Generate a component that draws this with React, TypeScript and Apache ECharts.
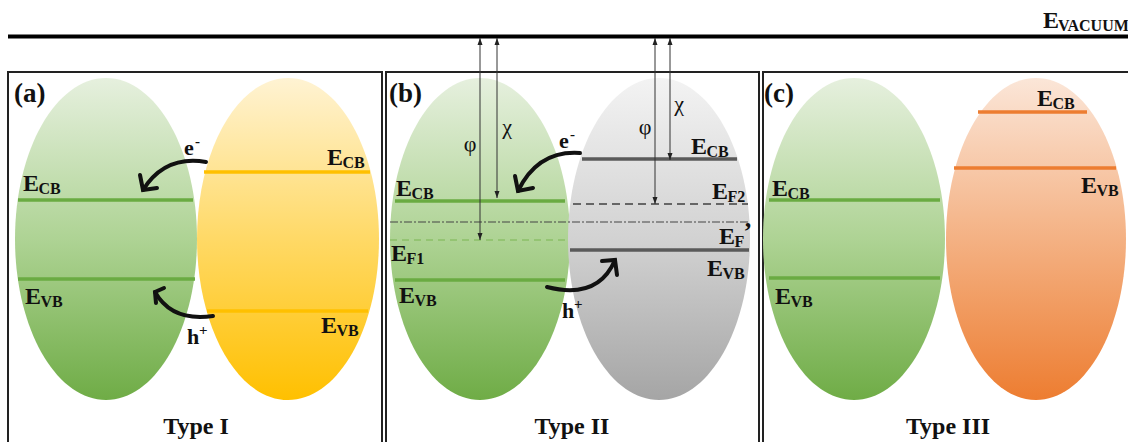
import React, { useEffect, useRef } from "react";
import * as echarts from "echarts";

// ---- content (texts) ----
const panelLabels = ["(a)", "(b)", "(c)"];
const typeLabels = ["Type I", "Type II", "Type III"];
const carrierLabels = [
  ["e", "-"],
  ["h", "+"],
];
const greekLabels = ["φ", "χ"];
const vacuumLabel = ["E", "VACUUM"];

const FONT = "'Liberation Serif', 'Times New Roman', Times, serif";

type El = any;

function txt(x: number, y: number, text: string, size: number, opts: any = {}): El {
  return {
    type: "text",
    x,
    y,
    z: 20,
    style: {
      text,
      fontSize: size,
      fontFamily: opts.family ?? FONT,
      fontWeight: opts.weight ?? "bold",
      fill: opts.fill ?? "#111",
      align: opts.align ?? "left",
      verticalAlign: "middle",
    },
  };
}

const MS = 24;
const SS = 16;

// E with subscript (optionally with superscript after sub)
function eLabel(x: number, base: number, sub: string, sup?: string, subW = 0): El[] {
  const out: El[] = [
    txt(x, base - 0.33 * MS, "E", MS),
    txt(x + 15.5, base + 3 - 0.33 * SS, sub, SS),
  ];
  if (sup) out.push(txt(x + 15.5 + subW, base - 13, sup, 26));
  return out;
}

function carrier(x: number, base: number, letter: string, sign: string, w: number): El[] {
  return [txt(x, base - 0.33 * 22, letter, 22), txt(x + w, base - 14, sign, 15)];
}

function hline(x1: number, x2: number, y: number, color: string, width: number, dash?: number[]): El {
  return {
    type: "line",
    z: 10,
    shape: { x1, y1: y, x2, y2: y },
    style: { stroke: color, lineWidth: width, lineDash: dash },
  };
}

function ellipse(cx: number, cy: number, rx: number, ry: number, stops: string[]): El {
  return {
    type: "ellipse",
    z: 5,
    shape: { cx, cy, rx, ry },
    style: {
      fill: new echarts.graphic.LinearGradient(0, 0, 0, 1, [
        { offset: 0, color: stops[0] },
        { offset: 0.5, color: stops[1] },
        { offset: 1, color: stops[2] },
      ]),
    },
  };
}

function curvedArrow(
  sx: number, sy: number, cx: number, cy: number, tx: number, ty: number,
  a1: [number, number], a2: [number, number]
): El[] {
  return [
    {
      type: "bezierCurve",
      z: 15,
      shape: { x1: sx, y1: sy, x2: tx, y2: ty, cpx1: cx, cpy1: cy },
      style: { stroke: "#111", lineWidth: 4, fill: null, lineCap: "round" },
    },
    {
      type: "polyline",
      z: 15,
      shape: { points: [a1, [tx, ty], a2] },
      style: { stroke: "#111", lineWidth: 4, fill: null, lineCap: "round", lineJoin: "miter" },
    },
  ];
}

function vArrow(x: number, y1: number, y2: number): El[] {
  return [
    {
      type: "line",
      z: 16,
      shape: { x1: x, y1: y1, x2: x, y2: y2 },
      style: { stroke: "#333", lineWidth: 1 },
    },
    {
      type: "polygon",
      z: 16,
      shape: { points: [[x, y1], [x - 2.5, y1 + 7], [x + 2.5, y1 + 7]] },
      style: { fill: "#222" },
    },
    {
      type: "polygon",
      z: 16,
      shape: { points: [[x, y2], [x - 2.5, y2 - 7], [x + 2.5, y2 - 7]] },
      style: { fill: "#222" },
    },
  ];
}

function box(x1: number, x2: number): El {
  return {
    type: "rect",
    z: 1,
    shape: { x: x1, y: 72, width: x2 - x1, height: 400 },
    style: { fill: "none", stroke: "#222", lineWidth: 2 },
  };
}

const GREEN = ["#e6f0de", "#aed394", "#6fac46"];
const YELLOW = ["#fff3d3", "#ffd966", "#ffc000"];
const GRAY = ["#f3f3f3", "#d2d2d2", "#a5a5a5"];
const ORANGE = ["#fbe6d8", "#f4b183", "#ed7d31"];

function buildElements(): El[] {
  const els: El[] = [];
  // vacuum level
  els.push({
    type: "line",
    z: 12,
    shape: { x1: 8, y1: 36.5, x2: 1130, y2: 36.5 },
    style: { stroke: "#000", lineWidth: 4 },
  });
  els.push(txt(1043, 28 - 0.33 * MS, vacuumLabel[0], MS));
  els.push(txt(1058, 31 - 0.33 * SS, vacuumLabel[1], SS));

  // panel boxes
  els.push(box(8, 382), box(386, 759), box(763, 1140));

  // ellipses
  els.push(ellipse(106, 239, 91, 161, GREEN));
  els.push(ellipse(288, 239, 91, 161, YELLOW));
  els.push(ellipse(480, 239, 90, 161, GREEN));
  els.push(ellipse(659, 239, 91, 161, GRAY));
  els.push(ellipse(854, 239, 91, 161, GREEN));
  els.push(ellipse(1036, 239, 90, 161, ORANGE));

  const G = "#6aab42";
  // panel (a) bands
  els.push(hline(18, 193, 200, G, 3.5));
  els.push(hline(18, 195, 279, G, 3.5));
  els.push(hline(204, 370, 172, "#ffc000", 3.5));
  els.push(hline(207, 368, 311, "#ffc000", 3.5));
  // panel (b)
  els.push(hline(395, 565, 201, G, 3.5));
  els.push(hline(390, 566, 240, "#8cc068", 1.5, [7, 5]));
  els.push(hline(390, 748, 222, "#444", 1.2, [8, 2, 2, 2]));
  els.push(hline(395, 565, 280, G, 3.5));
  els.push(hline(582, 737, 159, "#5a5a5a", 3.5));
  els.push(hline(573, 748, 204, "#666", 2, [8, 5]));
  els.push(hline(570, 749, 250, "#5a5a5a", 3.5));
  // panel (c)
  els.push(hline(769, 940, 200, G, 3.5));
  els.push(hline(769, 940, 278, G, 3.5));
  els.push(hline(978, 1087, 112, "#ed7d31", 3.5));
  els.push(hline(954, 1116, 168, "#ed7d31", 3.5));

  // vertical arrows (b)
  els.push(...vArrow(480, 38, 240));
  els.push(...vArrow(497, 38, 198));
  els.push(...vArrow(655, 38, 204));
  els.push(...vArrow(670, 38, 160));
  const gk = { weight: "normal", align: "center", family: FONT };
  els.push(txt(470, 143, greekLabels[0], 22, gk));
  els.push(txt(507, 126, greekLabels[1], 22, gk));
  els.push(txt(645, 126, greekLabels[0], 22, gk));
  els.push(txt(679, 103, greekLabels[1], 22, gk));

  // curved arrows
  els.push(...curvedArrow(206, 162, 165, 155, 143, 190, [140, 175], [157, 188]));
  els.push(...curvedArrow(213, 316, 172, 322, 155, 292, [164, 288], [156, 303]));
  els.push(...curvedArrow(580, 153, 538, 150, 518, 191, [515, 176], [533, 188]));
  els.push(...curvedArrow(547, 287, 598, 300, 615, 260, [602, 261], [617, 275]));

  // carriers
  els.push(...carrier(184, 155, carrierLabels[0][0], carrierLabels[0][1], 11));
  els.push(...carrier(187, 344, carrierLabels[1][0], carrierLabels[1][1], 12));
  els.push(...carrier(559, 148, carrierLabels[0][0], carrierLabels[0][1], 11));
  els.push(...carrier(562, 318, carrierLabels[1][0], carrierLabels[1][1], 12));

  // band labels
  els.push(...eLabel(23, 191, "CB"));
  els.push(...eLabel(25, 304, "VB"));
  els.push(...eLabel(327, 165, "CB"));
  els.push(...eLabel(321, 333, "VB"));
  els.push(...eLabel(396, 196, "CB"));
  els.push(...eLabel(391, 261, "F1"));
  els.push(...eLabel(399, 303, "VB"));
  els.push(...eLabel(691, 154, "CB"));
  els.push(...eLabel(712, 199, "F2"));
  els.push(...eLabel(719, 244, "F", "’", 9));
  els.push(...eLabel(707, 276, "VB"));
  els.push(...eLabel(772, 196, "CB"));
  els.push(...eLabel(775, 304, "VB"));
  els.push(...eLabel(1037, 106, "CB"));
  els.push(...eLabel(1081, 193, "VB"));

  // panel labels
  const px = [14, 389, 764];
  panelLabels.forEach((p, i) => els.push(txt(px[i], 93, p, 27)));
  const tx = [196, 572, 948];
  typeLabels.forEach((t, i) => els.push(txt(tx[i], 434 - 0.33 * 24, t, 24, { align: "center" })));

  return els;
}

export default function App() {
  const ref = useRef<HTMLDivElement>(null);
  useEffect(() => {
    if (!ref.current) return;
    const chart = echarts.init(ref.current, undefined, { renderer: "svg" });
    chart.setOption({
      animation: false,
      backgroundColor: "#ffffff",
      graphic: { elements: buildElements() },
    });
    return () => chart.dispose();
  }, []);
  return (
    <div
      ref={ref}
      style={{ position: "fixed", left: 0, top: 0, width: 1128, height: 442, background: "#fff" }}
    />
  );
}
